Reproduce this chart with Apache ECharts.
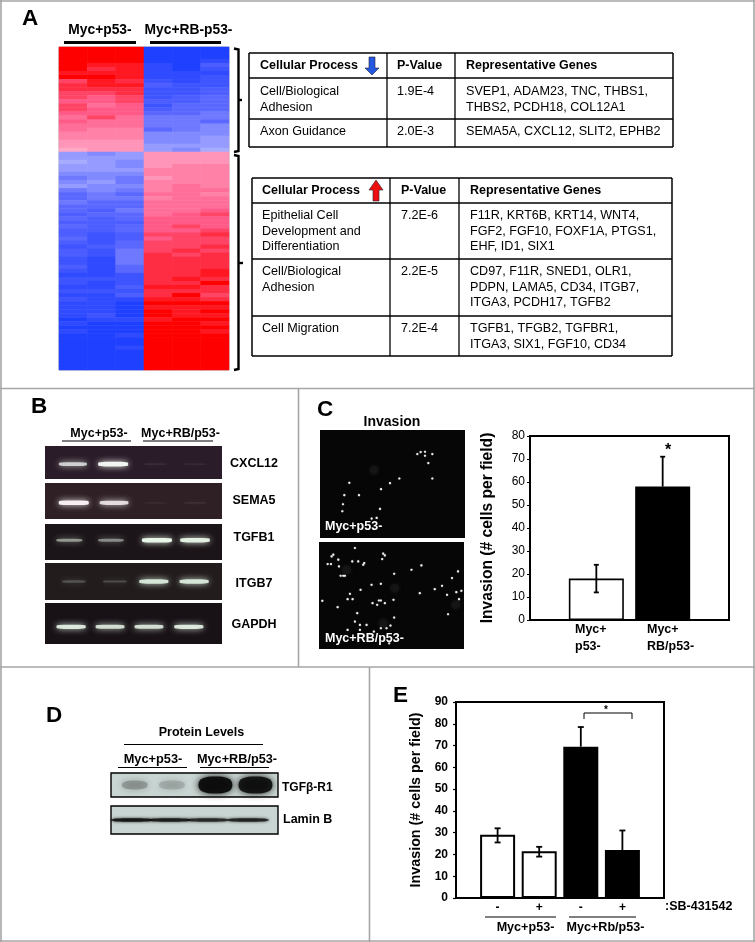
<!DOCTYPE html>
<html><head><meta charset="utf-8">
<style>html,body{margin:0;padding:0;background:#fff}#c{width:755px;height:942px}</style>
<script src="https://cdn.jsdelivr.net/npm/echarts@6/dist/echarts.min.js"></script>
</head><body><div id="c"></div>
<script>
const FONT='"Liberation Sans",Arial,sans-serif';
// ---------- Panel A: expression heat map (top 26 rows, bottom 54 rows)
const heatCols=['M1','M2','M3','R1','R2','R3'];
const heat1=[10,10,10,10,10,10,9,10,7,8,8,7,7,6,7,7,6,5,6,5,5,4,4,3,3,2,
-3,-3,-2,-3,-3,-4,-5,-4,-3,-5,-6,-6,-5,-6,-6,-7,-6,-7,-6,-7,-7,-6,-7,-8,-7,-7,-8,-8,-7,-8,-9,-8,-8,-9,-8,-9,-8,-9,-9,-9,-9,-10,-9,-10,-9,-10,-10,-10,-10,-10,-10,-10,-10,-10];
const heat2=[10,10,10,10,9,8,9,10,9,9,8,7,6,6,5,6,6,7,5,5,4,4,4,3,3,3,
-4,-3,-3,-3,-3,-4,-4,-3,-4,-4,-5,-5,-6,-6,-7,-6,-7,-7,-7,-7,-8,-8,-8,-7,-8,-8,-9,-9,-9,-9,-9,-8,-9,-9,-8,-9,-9,-9,-9,-9,-8,-9,-10,-10,-10,-10,-10,-10,-10,-10,-10,-10,-10,-10];
const heat3=[10,10,10,10,9,9,9,9,8,9,8,8,7,7,6,6,6,5,5,5,4,4,4,3,3,3,
-3,-3,-4,-4,-3,-4,-5,-5,-4,-5,-6,-5,-6,-6,-5,-6,-6,-7,-6,-6,-7,-7,-6,-6,-5,-5,-5,-5,-6,-6,-8,-8,-8,-7,-8,-7,-9,-10,-10,-10,-10,-9,-10,-10,-10,-9,-10,-10,-9,-10,-10,-10,-10,-10];
const heat4=[-10,-10,-10,-10,-9,-9,-9,-9,-8,-7,-8,-8,-8,-7,-8,-7,-6,-5,-5,-5,-6,-4,-4,-4,-3,-3,
3,3,3,3,4,4,3,4,4,4,5,4,5,5,5,5,6,6,6,6,7,6,7,7,7,8,8,8,8,8,8,8,8,9,8,8,9,10,9,10,10,9,10,10,10,10,10,10,10,10,10,10,10,10];
const heat5=[-10,-10,-10,-10,-10,-10,-9,-9,-9,-8,-8,-8,-7,-7,-6,-6,-6,-5,-5,-5,-5,-4,-4,-4,-3,-4,
3,3,3,4,4,4,4,4,5,5,5,5,5,5,5,6,6,6,7,6,7,7,7,7,8,7,8,8,8,8,8,9,8,9,8,10,9,10,9,9,9,10,10,10,10,10,10,10,10,10,10,10,10,10];
const heat6=[-10,-10,-10,-9,-7,-8,-9,-8,-8,-8,-7,-7,-6,-6,-6,-6,-5,-5,-6,-4,-4,-4,-3,-3,-3,-2,
3,3,3,4,4,4,4,4,4,5,4,5,5,5,6,7,6,6,6,7,8,7,7,8,7,8,8,8,8,9,9,8,10,8,8,7,8,10,9,10,9,10,9,10,9,10,10,10,10,10,10,10,10,10];
const heatAll=[heat1,heat2,heat3,heat4,heat5,heat6];
// ---------- Panel A: tables
const tableHead=['Cellular Process','P-Value','Representative Genes'];
const downRows=[
 [['Cell/Biological','Adhesion'],['1.9E-4'],['SVEP1, ADAM23, TNC, THBS1,','THBS2, PCDH18, COL12A1']],
 [['Axon Guidance'],['2.0E-3'],['SEMA5A, CXCL12, SLIT2, EPHB2']]];
const upRows=[
 [['Epithelial Cell','Development and','Differentiation'],['7.2E-6'],['F11R, KRT6B, KRT14, WNT4,','FGF2, FGF10, FOXF1A, PTGS1,','EHF, ID1, SIX1']],
 [['Cell/Biological','Adhesion'],['2.2E-5'],['CD97, F11R, SNED1, OLR1,','PDPN, LAMA5, CD34, ITGB7,','ITGA3, PCDH17, TGFB2']],
 [['Cell Migration'],['7.2E-4'],['TGFB1, TFGB2, TGFBR1,','ITGA3, SIX1, FGF10, CD34']]];
// ---------- Panel B: gels  [lane position, intensity]
const gelNames=['CXCL12','SEMA5','TGFB1','ITGB7','GAPDH'];
const gelCXCL12=[[0.63,0.75],[1.54,1],[2.49,0.07],[3.39,0.06]];
const gelSEMA5=[[0.65,1],[1.56,0.85],[2.49,0.05],[3.39,0.07]];
const gelTGFB1=[[0.55,0.5],[1.49,0.45],[2.53,1],[3.39,0.95]];
const gelITGB7=[[0.65,0.22],[1.58,0.2],[2.46,0.9],[3.37,0.9]];
const gelGAPDH=[[0.59,0.9],[1.47,0.85],[2.35,0.85],[3.25,0.9]];
// ---------- Panel C: bar chart
const cCats=['','Myc+\np53-','Myc+\nRB/p53-',''];
const cVals=[null,18,58,null];
const cErr=[[1,12,24],[2,58,71]];
// ---------- Panel C: bright cells in micrographs
const cells1=[[352,192],[362,186],[375,185],[375,197],[397,192],[385,219],[397,265],[298,265],[270,279],[148,278],[177,315],[133,315],[243,297],[129,342],[127,363],[240,356],[215,385],[230,383]];
const cells2=[[100,495],[95,500],[83,523],[93,523],[115,510],[117,530],[122,558],[130,558],[135,558],[157,515],[175,515],[193,520],[190,525],[165,475],[250,492],[255,497],[247,508],[283,552],[335,540],[365,527],[475,545],[457,565],[427,588],[405,598],[360,610],[442,615],[470,607],[485,603],[478,628],[445,673],[215,585],[243,582],[182,600],[158,628],[143,628],[237,632],[243,632],[232,645],[218,640],[281,630],[255,640],[67,633],[113,652],[172,670],[283,683],[165,695],[180,705],[200,705],[143,720],[180,720],[222,725],[243,715],[260,715],[272,707],[268,760],[150,612]];
const faint1=[[222,240]];
const faint2=[[250,700],[285,595],[140,540],[468,645]];
// ---------- Panel D: blots [lane position, intensity]
const blotTGF=[[0.57,0.22],[1.46,0.15],[2.5,0.95],[3.46,0.9]];
const blotLamin=[[0.5,0.85],[1.41,0.8],[2.32,0.7],[3.28,0.75]];
// ---------- Panel E: bar chart
const eCats=['','-','+','-','+',''];
const eVals=[null,29,21.5,69.5,22,null];
const eErr=[[1,25.5,32],[2,19,23.5],[3,69.5,78.5],[4,22,31]];
const eColors=['#fff','#fff','#fff','#000','#000','#000'];

// ---------- text & line helpers
const els=[];
function T(text,x,y,size,bold,align,fill){els.push({type:'text',silent:true,z:20,style:{text,x,y,font:(bold?'bold ':'')+size+'px '+FONT,textAlign:align||'left',textVerticalAlign:'middle',fill:fill||'#000'}});}
function L(x1,y1,x2,y2,w,c){els.push({type:'line',silent:true,z:19,shape:{x1,y1,x2,y2},style:{stroke:c||'#000',lineWidth:w||1}});}
function P(points,w){els.push({type:'polyline',silent:true,z:19,shape:{points},style:{stroke:'#000',fill:'none',lineWidth:w}});}
function Poly(points,fill){els.push({type:'polygon',silent:true,z:19,shape:{points},style:{fill,stroke:'#223',lineWidth:0.6}});}

// panel frames
const G='#a6a6a6';
L(0,1,755,1,1.6,G);L(1,0,1,942,1.6,G);L(754,0,754,942,1.6,G);L(0,388.5,755,388.5,1.6,G);L(298.5,388,298.5,667,1.6,G);
L(0,667,755,667,1.6,G);L(369.5,667,369.5,942,1.6,G);L(0,941,755,941,1.6,G);
// panel letters
T('A',22,19,22.5,true);T('B',31,407,22.5,true);T('C',317,410,22.5,true);T('D',46,716,22.5,true);T('E',393,696,22.5,true);

// Panel A labels
T('Myc+p53-',100,30,13.8,true,'center');L(64,42.5,136,42.5,3);
T('Myc+RB-p53-',188.5,30,13.8,true,'center');L(150,42.5,221,42.5,3);
P([[234,48.5],[238.5,49.5],[238.5,151],[234,152]],2.4);L(238.5,100,242,100,2.4);
P([[234,155],[238.5,156],[238.5,369],[234,370]],2.4);L(238.5,263,243,263,2.4);

function table(rows,box,colX,rowLines,headY,rowYs,textX){
 const [x1,y1,x2,y2]=box;
 [[x1,y1,x2,y1],[x1,y2,x2,y2],[x1,y1,x1,y2],[x2,y1,x2,y2]].forEach(a=>L(a[0],a[1],a[2],a[3],1.5));
 colX.forEach(c=>L(c,y1,c,y2,1.3));
 rowLines.forEach(r=>L(x1,r,x2,r,1.4));
 tableHead.forEach((h,i)=>T(h,textX[i],headY,12.5,true));
 rows.forEach((row,r)=>row.forEach((cell,c)=>cell.forEach((ln,k)=>T(ln,textX[c],rowYs[r]+k*15.2,12.6,false))));
}
table(downRows,[249,53,673,147],[387,455],[78,119],66,[92,132],[260,397,466]);
table(upRows,[252,178,672,356],[390,459],[203,259,316],191,[216,272,329],[262,401,470]);
Poly([[369,57],[375,57],[375,68],[379,68],[372,75],[365,68],[369,68]],'#2458e0');
Poly([[376,180],[383,190],[379,190],[379,201],[373,201],[373,190],[369,190]],'#ee1010');

// Panel B labels
T('Myc+p53-',99,434,12.5,true,'center');L(62,441,131,441,1.2);
T('Myc+RB/p53-',180.5,434,12.5,true,'center');L(143,441,213,441,1.2);
[[464],[501],[538],[584],[625]].forEach((a,i)=>T(gelNames[i],254,a[0],12.5,true,'center'));

// Panel C labels
T('Invasion',392,422,14,true,'center');
T('Myc+p53-',325,527,12.5,true,'left','#fff');T('Myc+RB/p53-',325,639,12.5,true,'left','#fff');
T('Myc+',575,630,12.5,true);T('p53-',575,647,12.5,true);
T('Myc+',647,630,12.5,true);T('RB/p53-',647,647,12.5,true);
T('*',668,451,16,true,'center');

// Panel D labels
T('Protein Levels',201.5,733,12.5,true,'center');L(124,744.5,263,744.5,1.2);
T('Myc+p53-',153,759,12.8,true,'center');L(118,767.5,187,767.5,1.2);
T('Myc+RB/p53-',237,759,12.7,true,'center');L(200,767.5,269,767.5,1.2);
T('TGF\u03b2-R1',282,788,12,true);T('Lamin B',283,820,12.5,true);

// Panel E labels
T(':SB-431542',665,907,12.5,true);
L(485,917,556,917,1);L(569,917,636,917,1);
T('Myc+p53-',525.5,928,12.6,true,'center');T('Myc+Rb/p53-',605.5,928,12.6,true,'center');
P([[584,719],[584,713],[632,713],[632,719]],1);T('*',606,710,10,true,'center');

// ---------- grids
const grids=[],xAxes=[],yAxes=[],series=[];
function addGrid(g,x,y){grids.push(g);const i=grids.length-1;xAxes.push(Object.assign({gridIndex:i},x));yAxes.push(Object.assign({gridIndex:i},y));return i;}
const hiddenVal=(min,max,extra)=>Object.assign({type:'value',min,max,show:false,splitLine:{show:false}},extra||{});

// heat map
const hIdx=addGrid({left:59,top:47,width:170,height:323,show:true,borderColor:'#777',borderWidth:0.6},
 {type:'category',data:heatCols,show:false,splitArea:{show:false}},
 {type:'category',data:heat1.map((_,i)=>String(i)),inverse:true,show:false,splitArea:{show:false}});
const hData=[];heatAll.forEach((col,c)=>col.forEach((v,r)=>hData.push([c,r,v])));
series.push({type:'heatmap',xAxisIndex:hIdx,yAxisIndex:hIdx,data:hData,silent:true,progressive:0,animation:false,itemStyle:{borderWidth:0}});

// gels
function gel(box,bg,bands,color,hFn,wFn,blur,symbol){
 const i=addGrid({left:box[0],top:box[1],width:box[2],height:box[3],show:true,backgroundColor:bg,borderWidth:box[4]||0,borderColor:'#000'},
  hiddenVal(0,4),hiddenVal(0,1));
 series.push({type:'scatter',xAxisIndex:i,yAxisIndex:i,symbol:symbol||'roundRect',silent:true,animation:false,
  symbolSize:(d)=>[wFn(d[2]),hFn(d[2])],
  data:bands.map(b=>({value:[b[0],box[5]==null?0.55:box[5],b[1]],itemStyle:{opacity:b[1]}})),
  itemStyle:{color,shadowBlur:blur,shadowColor:color}});
 return i;
}
const bandH=v=>1.6+3*v, bandW=v=>22+8*v;
gel([45,446,177,33,0,0.45],'#2a1c28',gelCXCL12,'#f2f6f2',bandH,bandW,6);
gel([45,483,177,36,0,0.45],'#2e2024',gelSEMA5,'#f5eef2',bandH,bandW,6);
gel([45,524,177,36,0,0.55],'#1b1418',gelTGFB1,'#e8f5e8',bandH,bandW,6);
gel([45,563,177,37,0,0.5],'#221c1c',gelITGB7,'#e0f2e2',bandH,bandW,6);
gel([45,603,177,41,0,0.42],'#181216',gelGAPDH,'#e8f5e8',bandH,bandW,6);

// micrographs
function micro(box,ext,pts,faint){
 const i=addGrid({left:box[0],top:box[1],width:box[2],height:box[3],show:true,backgroundColor:'#060606',borderWidth:0},
  hiddenVal(ext[0],ext[1]),hiddenVal(ext[2],ext[3],{inverse:true}));
 series.push({type:'scatter',xAxisIndex:i,yAxisIndex:i,data:faint,symbolSize:9,silent:true,animation:false,itemStyle:{color:'#161616',shadowBlur:4,shadowColor:'#161616'}});
 series.push({type:'scatter',xAxisIndex:i,yAxisIndex:i,data:pts,symbolSize:2.2,silent:true,animation:false,itemStyle:{color:'#fff',shadowBlur:1,shadowColor:'#fff'}});
}
micro([320,430,145,108],[60,495,120,443],cells1,faint1);
micro([319,542,145,107],[57,493,457,777],cells2,faint2);

// blots
const blotBg='#c9d5d2';
const ELL='path://M0,50 C0,10 20,0 50,0 C80,0 100,10 100,50 C100,90 80,100 50,100 C20,100 0,90 0,50Z';
gel([111,773,167,24,1.4,0.5],blotBg,blotTGF,'#0c0c0c',v=>v>0.5?17:9,v=>v>0.5?34:26,7,ELL);
gel([111,806,167,28,1.4,0.5],blotBg,blotLamin,'#0c0c0c',()=>3.5,()=>42,3,ELL);

// bar charts
function errSeries(i,data,cap,w){
 return {type:'custom',xAxisIndex:i,yAxisIndex:i,data,silent:true,animation:false,z:5,
  encode:{x:0,y:[1,2]},
  renderItem(p,api){
   const a=api.coord([api.value(0),api.value(1)]),b=api.coord([api.value(0),api.value(2)]);
   const st={stroke:'#000',lineWidth:w,fill:'none'};
   const kids=[{type:'line',shape:{x1:a[0],y1:a[1],x2:b[0],y2:b[1]},style:st},
               {type:'line',shape:{x1:b[0]-cap,y1:b[1],x2:b[0]+cap,y2:b[1]},style:st}];
   if(i===cIdx?api.value(1)!==58:api.value(1)<40&&api.value(0)<3)kids.push({type:'line',shape:{x1:a[0]-cap,y1:a[1],x2:a[0]+cap,y2:a[1]},style:st});
   return {type:'group',children:kids};
  }};
}
const cIdx=addGrid({left:530,top:436,width:199,height:184,show:true,borderColor:'#000',borderWidth:2},
 {type:'category',data:cCats,boundaryGap:false,axisTick:{show:false},axisLabel:{show:false},axisLine:{lineStyle:{color:'#000',width:2}},splitLine:{show:false}},
 {type:'value',min:0,max:80,interval:10,name:'Invasion (# cells per field)',nameLocation:'middle',nameGap:34,nameTextStyle:{fontFamily:FONT,fontWeight:'bold',fontSize:15.6,color:'#000'},
  axisLine:{show:true,lineStyle:{color:'#000',width:2}},axisTick:{show:true,length:3,lineStyle:{color:'#000',width:1}},splitLine:{show:false},
  axisLabel:{fontFamily:FONT,fontSize:12,color:'#000',margin:5}});
series.push({type:'bar',xAxisIndex:cIdx,yAxisIndex:cIdx,barWidth:55,silent:true,animation:false,
 data:cVals.map((v,k)=>({value:v,itemStyle:{color:k===1?'#fff':'#000',borderColor:'#000',borderWidth:k===1?1.6:0}}))});
series.push(errSeries(cIdx,cErr,2.5,1.8));

const eIdx=addGrid({left:456,top:702,width:208,height:196,show:true,borderColor:'#000',borderWidth:2},
 {type:'category',data:eCats,boundaryGap:false,axisTick:{show:false},axisLine:{lineStyle:{color:'#000',width:2}},splitLine:{show:false},
  axisLabel:{interval:0,fontFamily:FONT,fontWeight:'bold',fontSize:12,color:'#000',margin:4}},
 {type:'value',min:0,max:90,interval:10,name:'Invasion (# cells per field)',nameLocation:'middle',nameGap:33,nameTextStyle:{fontFamily:FONT,fontWeight:'bold',fontSize:14.3,color:'#000'},
  axisLine:{show:true,lineStyle:{color:'#000',width:2}},axisTick:{show:true,length:3,lineStyle:{color:'#000',width:1.2}},splitLine:{show:false},
  axisLabel:{fontFamily:FONT,fontWeight:'bold',fontSize:12,color:'#000',margin:8}});
series.push({type:'bar',xAxisIndex:eIdx,yAxisIndex:eIdx,barWidth:35,silent:true,animation:false,
 data:eVals.map((v,k)=>({value:v,itemStyle:{color:eColors[k],borderColor:'#000',borderWidth:2}}))});
series.push(errSeries(eIdx,eErr,3,1.8));

const chart=echarts.init(document.getElementById('c'),null,{renderer:'canvas'});
chart.setOption({animation:false,backgroundColor:'#fff',textStyle:{fontFamily:FONT},
 grid:grids,xAxis:xAxes,yAxis:yAxes,series,
 visualMap:[{show:false,type:'continuous',seriesIndex:0,min:-10,max:10,calculable:false,dimension:2,
  inRange:{color:['#2040ff','#5a68ff','#a8acff','#ffa8c8','#ff5a88','#ff0000']}}],
 graphic:{elements:els}});
</script></body></html>
